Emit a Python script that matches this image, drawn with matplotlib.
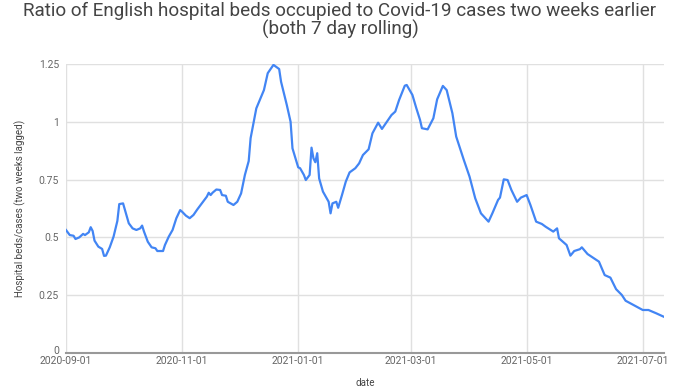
import matplotlib.pyplot as plt
import matplotlib.transforms as mtransforms
import pandas as pd

# days since 2020-09-01 and the ratio
start = '2020-09-01'
day = [0, 2, 4, 5, 7, 9, 10, 12, 13, 14, 15, 17, 19, 20, 21, 23, 25, 27, 28, 30,
       31, 33, 35, 37, 39, 40, 41, 43, 45, 47, 48, 51, 52, 54, 56, 58, 60, 61, 63, 65,
       67, 69, 72, 74, 75, 76, 77, 79, 81, 82, 84, 85, 88, 90, 92, 94, 96, 97, 100, 104,
       106, 109, 112, 113, 116, 118, 119, 122, 123, 125, 126, 128, 129, 130, 131, 132, 133, 135, 138, 139,
       140, 142, 143, 145, 147, 149, 152, 154, 156, 159, 161, 164, 166, 168, 171, 173, 175, 178, 179, 182,
       184, 186, 187, 190, 193, 195, 198, 200, 203, 205, 209, 212, 215, 218, 222, 224, 227, 228, 230, 232,
       234, 237, 239, 242, 244, 247, 250, 252, 256, 258, 259, 263, 265, 267, 270, 271, 274, 280, 283, 286,
       289, 292, 294, 298, 303, 306, 310, 314]
ratio = [0.532, 0.51, 0.507, 0.493, 0.50, 0.515, 0.51, 0.522, 0.544, 0.528, 0.486, 0.46, 0.45, 0.42, 0.421, 0.457, 0.503, 0.571, 0.644, 0.647,
         0.618, 0.561, 0.539, 0.532, 0.539, 0.551, 0.525, 0.481, 0.457, 0.453, 0.441, 0.441, 0.467, 0.503, 0.532, 0.583, 0.618, 0.611, 0.594, 0.583,
         0.597, 0.621, 0.654, 0.676, 0.693, 0.683, 0.693, 0.707, 0.705, 0.683, 0.68, 0.654, 0.64, 0.654, 0.69, 0.77, 0.83, 0.929, 1.058, 1.137,
         1.21, 1.246, 1.228, 1.173, 1.073, 1.0, 0.885, 0.803, 0.799, 0.77, 0.748, 0.77, 0.888, 0.842, 0.825, 0.864, 0.755, 0.698, 0.654, 0.604,
         0.647, 0.654, 0.628, 0.683, 0.741, 0.781, 0.799, 0.82, 0.856, 0.881, 0.95, 0.996, 0.969, 0.993, 1.029, 1.044, 1.094, 1.156, 1.159, 1.116,
         1.06, 1.008, 0.972, 0.967, 1.015, 1.097, 1.155, 1.137, 1.037, 0.936, 0.835, 0.763, 0.669, 0.604, 0.568, 0.604, 0.662, 0.672, 0.751, 0.748,
         0.705, 0.654, 0.672, 0.683, 0.64, 0.568, 0.558, 0.546, 0.525, 0.539, 0.496, 0.467, 0.421, 0.441, 0.449, 0.457, 0.428, 0.395, 0.337, 0.326,
         0.276, 0.251, 0.226, 0.208, 0.186, 0.186, 0.172, 0.157]
xticks = ['2020-09-01', '2020-11-01', '2021-01-01', '2021-03-01', '2021-05-01', '2021-07-01']
yticks = [0, 0.25, 0.5, 0.75, 1, 1.25]
ytick_labels = ['0', '0.25', '0.5', '0.75', '1', '1.25']

dates = pd.Timestamp(start) + pd.to_timedelta(day, unit='D')

plt.rcParams['font.family'] = ['Roboto', 'DejaVu Sans']
fig = plt.figure(figsize=(6.8, 3.88), dpi=100)
ax = fig.add_axes([0.097, 0.0902, 0.879, 0.745])

ax.plot(dates, ratio, color='#4285F4', lw=1.6, zorder=3)

ax.set_ylim(0, 1.25)
ax.set_yticks(yticks)
ax.set_yticklabels(ytick_labels)
xt = pd.to_datetime(xticks)
ax.set_xticks(xt)
ax.set_xticklabels(xticks)
ax.set_xlim(pd.Timestamp(start), pd.Timestamp(start) + pd.Timedelta(days=314))

ax.grid(True, color='#e0e0e0', lw=1)
for s in ['top', 'right', 'left']:
    ax.spines[s].set_visible(False)
ax.spines['bottom'].set_color('#999999')
ax.spines['bottom'].set_linewidth(1.5)
ax.spines['bottom'].set_zorder(4)
ax.tick_params(length=0, labelsize=7.5, colors='#666666')
ax.tick_params(axis='x', pad=2)
ax.tick_params(axis='y', pad=5)

# nudge the "0" label up a touch so it clears the first date label
zero_lbl = ax.get_yticklabels()[0]
zero_lbl.set_transform(zero_lbl.get_transform() + mtransforms.ScaledTranslation(0, 2 / 72, fig.dpi_scale_trans))

ax.set_ylabel('Hospital beds/cases (two weeks lagged)', fontsize=7, color='#444444', labelpad=9)
ax.set_xlabel('date', fontsize=7, color='#444444', labelpad=9)
fig.suptitle('Ratio of English hospital beds occupied to Covid-19 cases two weeks earlier\n(both 7 day rolling)',
             fontsize=13.6, color='#444444', y=0.995, linespacing=1.0)

plt.savefig('out.png', dpi=100)
